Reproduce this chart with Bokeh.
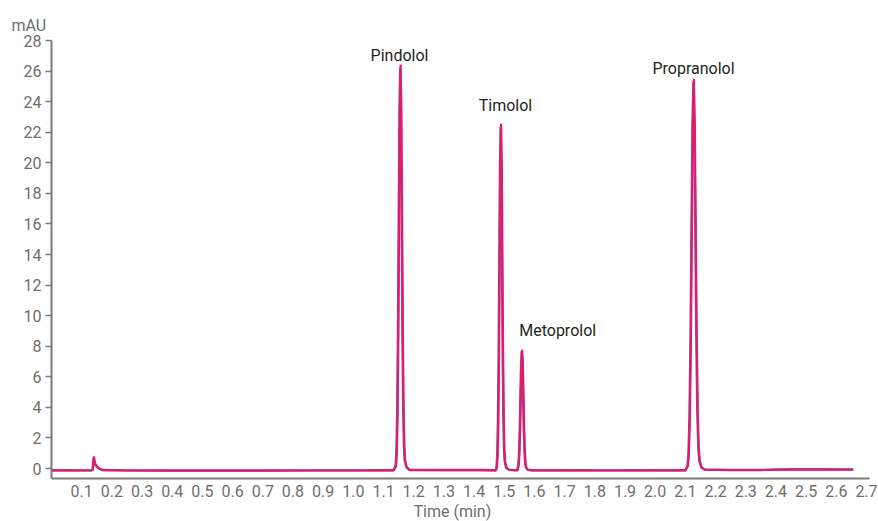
from bokeh.plotting import figure
from bokeh.models import ColumnDataSource, FixedTicker, Label, Range1d, NumeralTickFormatter, Title
from bokeh.embed import file_html
from bokeh.resources import INLINE

# ---- data ----
x_ticks = [0.1, 0.2, 0.3, 0.4, 0.5, 0.6, 0.7, 0.8, 0.9, 1.0, 1.1, 1.2, 1.3, 1.4,
           1.5, 1.6, 1.7, 1.8, 1.9, 2.0, 2.1, 2.2, 2.3, 2.4, 2.5, 2.6, 2.7]
y_ticks = [0, 2, 4, 6, 8, 10, 12, 14, 16, 18, 20, 22, 24, 26, 28]

peak_names = ["Pindolol", "Timolol", "Metoprolol", "Propranolol"]

pink_time = [0.0, 0.05, 0.10, 0.132, 0.137, 0.1395, 0.141, 0.1425, 0.145, 0.150, 0.158, 0.170,
             0.25, 0.40, 0.55, 0.70, 0.85, 1.00, 1.12,
             1.1341, 1.1416, 1.1441, 1.1466, 1.1491, 1.1516, 1.1541, 1.1566, 1.1591, 1.1616,
             1.1641, 1.1666, 1.1691, 1.1716, 1.1766, 1.186,
             1.30, 1.42, 1.473,
             1.4759, 1.4782, 1.4804, 1.4827, 1.4849, 1.4872, 1.4894, 1.4917, 1.4939, 1.4962,
             1.4984, 1.5007, 1.5029, 1.5075, 1.515, 1.53,
             1.544, 1.5481, 1.5503, 1.5526, 1.5548, 1.5571, 1.5593, 1.5616, 1.5638, 1.5661,
             1.5683, 1.5706, 1.5728, 1.578, 1.59,
             1.70, 1.85, 2.00, 2.10,
             2.1085, 2.1118, 2.115, 2.1183, 2.1215, 2.1248, 2.128, 2.1313, 2.1345, 2.1378,
             2.141, 2.1443, 2.1475, 2.154, 2.165,
             2.25, 2.35, 2.45, 2.55, 2.656]
pink_mau = [-0.12, -0.12, -0.13, -0.12, -0.08, 0.5, 0.8, 0.5, 0.3, 0.15, 0.0, -0.1,
            -0.13, -0.14, -0.14, -0.14, -0.13, -0.13, -0.12,
            -0.12, 0.17, 1.05, 3.47, 8.50, 15.98, 23.31, 26.43, 23.4, 16.2,
            8.9, 3.9, 1.4, 0.5, 0.1, -0.1,
            -0.11, -0.11, -0.12,
            0.13, 0.88, 2.95, 7.24, 13.63, 19.89, 22.55, 19.95, 13.8, 7.5,
            3.3, 1.2, 0.45, 0.05, -0.08, -0.11,
            -0.12, 0.23, 0.95, 2.44, 4.66, 6.83, 7.76, 6.88, 4.8, 2.6,
            1.1, 0.35, 0.08, -0.08, -0.12,
            -0.12, -0.13, -0.12, -0.12,
            0.16, 1.00, 3.35, 8.20, 15.41, 22.48, 25.49, 22.55, 15.6, 8.5,
            3.7, 1.35, 0.5, 0.05, -0.08,
            -0.1, -0.1, -0.07, -0.07, -0.08]

blue_time = [0.0, 0.05, 0.10, 0.131, 0.136, 0.1385, 0.140, 0.1415, 0.144, 0.149, 0.157, 0.169,
             0.25, 0.40, 0.55, 0.70, 0.85, 1.00, 1.12,
             1.1326, 1.1401, 1.1426, 1.1451, 1.1476, 1.1501, 1.1526, 1.1551, 1.1576, 1.1601,
             1.1626, 1.1651, 1.1676, 1.1701, 1.1751, 1.185,
             1.30, 1.42, 1.472,
             1.4744, 1.4767, 1.4789, 1.4812, 1.4834, 1.4857, 1.4879, 1.4902, 1.4924, 1.4947,
             1.4969, 1.4992, 1.5014, 1.506, 1.514, 1.53,
             1.543, 1.5466, 1.5488, 1.5511, 1.5533, 1.5556, 1.5578, 1.5601, 1.5623, 1.5646,
             1.5668, 1.5691, 1.5713, 1.577, 1.59,
             1.70, 1.85, 2.00, 2.10,
             2.107, 2.1103, 2.1135, 2.1168, 2.12, 2.1233, 2.1265, 2.1298, 2.133, 2.1363,
             2.1395, 2.1428, 2.146, 2.153, 2.164,
             2.25, 2.35, 2.45, 2.55, 2.656]
blue_mau = [-0.11, -0.12, -0.12, -0.12, -0.08, 0.45, 0.75, 0.48, 0.3, 0.15, 0.0, -0.1,
            -0.12, -0.13, -0.13, -0.13, -0.12, -0.12, -0.11,
            -0.11, 0.2, 1.1, 3.5, 8.45, 15.9, 23.1, 26.2, 23.2, 16.1,
            8.9, 3.95, 1.45, 0.55, 0.12, -0.09,
            -0.1, -0.1, -0.11,
            0.15, 0.9, 2.95, 7.2, 13.5, 19.7, 22.35, 19.8, 13.7, 7.5,
            3.35, 1.25, 0.48, 0.06, -0.07, -0.1,
            -0.11, 0.25, 0.95, 2.42, 4.6, 6.75, 7.68, 6.8, 4.75, 2.6,
            1.12, 0.37, 0.1, -0.07, -0.11,
            -0.11, -0.12, -0.11, -0.11,
            0.18, 1.02, 3.35, 8.15, 15.3, 22.3, 25.3, 22.4, 15.5, 8.5,
            3.75, 1.4, 0.52, 0.06, -0.07,
            -0.09, -0.09, -0.05, -0.05, -0.06]

# ---- figure ----
p = figure(width=878, height=521, output_backend="svg", toolbar_location=None,
           x_range=Range1d(0, 2.71), y_range=Range1d(-0.654, 28),
           min_border_left=51, min_border_right=9, min_border_top=40, min_border_bottom=43)
p.outline_line_color = None
p.xgrid.visible = False
p.ygrid.visible = False
p.background_fill_color = "white"
p.border_fill_color = "white"

axis_col = "#7a7a7a"
lab_col = "#6e6e6e"
font = "Roboto"

xa = p.xaxis[0]
xa.ticker = FixedTicker(ticks=x_ticks)
xa.formatter = NumeralTickFormatter(format="0.0")
xa.major_tick_out = 0
xa.major_tick_in = 0
xa.minor_tick_out = 0
xa.minor_tick_in = 0
xa.axis_line_color = axis_col
xa.axis_line_width = 2
xa.major_label_standoff = 6
xa.major_label_text_font = font
xa.major_label_text_font_size = "16px"
xa.major_label_text_color = lab_col

ya = p.yaxis[0]
ya.ticker = FixedTicker(ticks=y_ticks)
ya.major_tick_out = 6
ya.major_tick_in = 0
ya.minor_tick_out = 0
ya.minor_tick_in = 0
ya.major_tick_line_color = axis_col
ya.major_tick_line_width = 1.5
ya.axis_line_color = axis_col
ya.axis_line_width = 2
ya.major_label_standoff = 4
ya.major_label_text_font = font
ya.major_label_text_font_size = "16px"
ya.major_label_text_color = lab_col

blue_src = ColumnDataSource(dict(t=blue_time, v=blue_mau))
pink_src = ColumnDataSource(dict(t=pink_time, v=pink_mau))
p.line("t", "v", source=blue_src, line_color="#5b66a8", line_width=2.4)
p.line("t", "v", source=pink_src, line_color="#e8186b", line_width=2.2)

# peak labels
label_pos = [(1.153, 27.0), (1.504, 23.75), (1.677, 9.0), (2.127, 26.2)]
for name, (lx, ly) in zip(peak_names, label_pos):
    p.add_layout(Label(x=lx, y=ly, text=name, text_align="center", text_baseline="middle",
                       text_font=font, text_font_size="16px", text_color="#231f20"))

# axis titles
t_top = Title(text="mAU", align="left", offset=-40, text_font=font, text_font_size="16px",
              text_color=lab_col, text_font_style="normal", standoff=12)
p.add_layout(t_top, "above")
t_bot = Title(text="Time (min)", align="left", offset=362, text_font=font, text_font_size="16px",
              text_color=lab_col, text_font_style="normal", standoff=0)
p.add_layout(t_bot, "below")

open("out.html", "w").write(file_html(p, INLINE))
